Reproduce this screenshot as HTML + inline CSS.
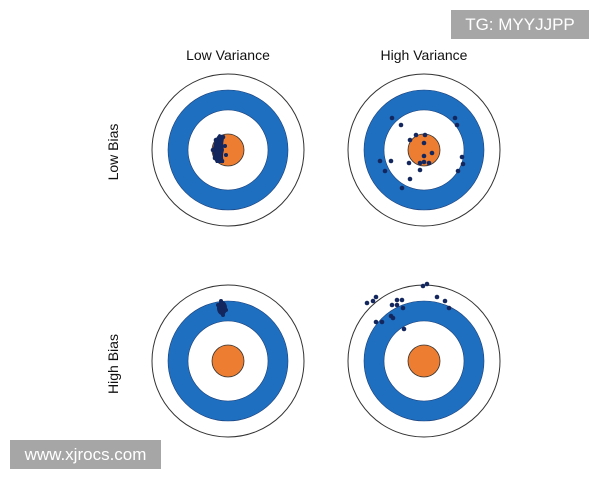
<!DOCTYPE html>
<html><head><meta charset="utf-8"><style>
body{margin:0;width:600px;height:480px;background:#fff;overflow:hidden;position:relative;font-family:"Liberation Sans",sans-serif}
.wm{position:absolute;background:#a6a6a6;color:#fff;font-size:17px;line-height:29px;text-align:center}
</style></head><body>
<svg width="600" height="480" style="position:absolute;left:0;top:0">
<defs>
<g id="t">
<circle r="76" fill="#fff" stroke="#333" stroke-width="1"/>
<circle r="50" fill="none" stroke="#1e6fc0" stroke-width="20"/>
<circle r="60" fill="none" stroke="#1a3f7a" stroke-width="0.6"/>
<circle r="40" fill="none" stroke="#1a3f7a" stroke-width="0.6"/>
<circle r="16" fill="#ed7d31" stroke="#333" stroke-width="0.8"/>
</g>
</defs>
<use href="#t" x="228" y="150"/>
<use href="#t" x="424" y="150"/>
<use href="#t" x="228" y="361"/>
<use href="#t" x="424" y="361"/>
<g fill="#13275e">
<path d="M219 134 Q214 140 213 148 Q212 156 216 163 L224 163 Q222 156 224 150 Q222 143 225 136 Z"/>
<circle cx="216" cy="140" r="2.3"/><circle cx="213" cy="150" r="2.3"/><circle cx="215" cy="158" r="2.3"/><circle cx="222" cy="161" r="2.3"/><circle cx="223" cy="137" r="2.3"/><circle cx="225" cy="146" r="2"/><circle cx="226" cy="155" r="2"/>
<ellipse cx="222" cy="308" rx="5" ry="7"/>
<circle cx="218" cy="305" r="2"/><circle cx="226" cy="310" r="2"/><circle cx="221" cy="301" r="2"/><circle cx="223" cy="315" r="2"/>
</g>
<g fill="#13275e">
<circle cx="392" cy="118" r="2.3"/><circle cx="401" cy="125" r="2.3"/><circle cx="416" cy="135" r="2.3"/><circle cx="425" cy="135" r="2.3"/><circle cx="410" cy="140" r="2.3"/><circle cx="424" cy="143" r="2.3"/><circle cx="432" cy="153" r="2.3"/><circle cx="424" cy="156" r="2.3"/><circle cx="409" cy="163" r="2.3"/><circle cx="420" cy="163" r="2.3"/><circle cx="424" cy="162" r="2.3"/><circle cx="429" cy="163" r="2.3"/><circle cx="391" cy="161" r="2.3"/><circle cx="380" cy="161" r="2.3"/><circle cx="385" cy="171" r="2.3"/><circle cx="420" cy="170" r="2.3"/><circle cx="410" cy="179" r="2.3"/><circle cx="402" cy="188" r="2.3"/><circle cx="455" cy="118" r="2.3"/><circle cx="457" cy="125" r="2.3"/><circle cx="462" cy="157" r="2.3"/><circle cx="463" cy="164" r="2.3"/><circle cx="458" cy="171" r="2.3"/>
<circle cx="367" cy="303" r="2.3"/><circle cx="373" cy="301" r="2.3"/><circle cx="376" cy="297" r="2.3"/><circle cx="423" cy="286" r="2.3"/><circle cx="427" cy="284" r="2.3"/><circle cx="392" cy="305" r="2.3"/><circle cx="397" cy="300" r="2.3"/><circle cx="397" cy="305" r="2.3"/><circle cx="402" cy="300" r="2.3"/><circle cx="403" cy="308" r="2.3"/><circle cx="391" cy="316" r="2.3"/><circle cx="393" cy="318" r="2.3"/><circle cx="376" cy="322" r="2.3"/><circle cx="382" cy="322" r="2.3"/><circle cx="404" cy="329" r="2.3"/><circle cx="437" cy="297" r="2.3"/><circle cx="445" cy="301" r="2.3"/><circle cx="449" cy="308" r="2.3"/>
</g>
<g font-family="Liberation Sans, sans-serif" font-size="14" fill="#111" text-anchor="middle">
<text x="228" y="60">Low Variance</text>
<text x="424" y="60">High Variance</text>
<text transform="translate(118,152) rotate(-90)">Low Bias</text>
<text transform="translate(118,364) rotate(-90)">High Bias</text>
</g>
</svg>
<div class="wm" style="left:451px;top:10px;width:138px">TG: MYYJJPP</div>
<div class="wm" style="left:10px;top:440px;width:151px">www.xjrocs.com</div>
</body></html>
